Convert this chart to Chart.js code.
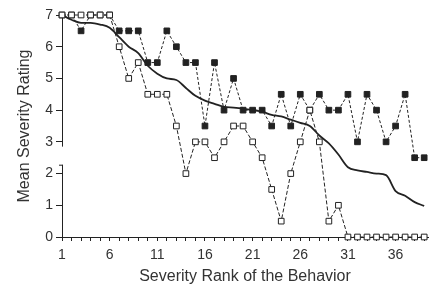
<!DOCTYPE html>
<html>
<head>
<meta charset="utf-8">
<script src="https://cdn.jsdelivr.net/npm/chart.js@4.4.1/dist/chart.umd.min.js"></script>
<style>
  html, body { margin: 0; padding: 0; background: #fff; }
  #wrap { width: 433px; height: 288px; position: relative; }
</style>
</head>
<body>
<div id="wrap"><canvas id="severityChart"></canvas></div>
<script>
// severity rank of each behavior (x)
const ranks = [];
for (let i = 1; i <= 39; i++) ranks.push(i);

// filled squares
const filledValues = [7, 7, 6.5, 7, 7, 7, 6.5, 6.5, 6.5, 5.5, 5.5, 6.5, 6, 5.5, 5.5, 3.5, 5.5, 4, 5, 4,
  4, 4, 3.5, 4.5, 3.5, 4.5, 4, 4.5, 4, 4, 4.5, 3, 4.5, 4, 3, 3.5, 4.5, 2.5, 2.5];

// open squares
const openValues = [7, 7, 7, 7, 7, 7, 6, 5, 5.5, 4.5, 4.5, 4.5, 3.5, 2, 3, 3, 2.5, 3, 3.5, 3.5,
  3, 2.5, 1.5, 0.5, 2, 3, 4, 3, 0.5, 1, 0, 0, 0, 0, 0, 0, 0, 0, 0];

// smooth mean line
const meanValues = [7, 6.85, 6.75, 6.75, 6.7, 6.6, 6.3, 6.0, 5.8, 5.4, 5.15, 5.0, 4.95, 4.7, 4.45, 4.3, 4.2, 4.1, 4.08, 4.05,
  4.0, 3.95, 3.85, 3.8, 3.7, 3.6, 3.5, 3.2, 2.95, 2.6, 2.2, 2.1, 2.05, 2.0, 1.95, 1.45, 1.3, 1.1, 0.98];

const xLabelTicks = [1, 6, 11, 16, 21, 26, 31, 36];

function toPoints(values) {
  return values.map((v, i) => ({ x: ranks[i], y: v }));
}

const ink = "#222";
const font = "'Liberation Sans', Arial, sans-serif";

// white gap on the y axis between 2 and 3 (axis break)
const axisBreak = {
  id: "axisBreak",
  afterDraw(chart) {
    const ctx = chart.ctx;
    const y = chart.scales.y;
    const x0 = chart.chartArea.left;
    const yTop = y.getPixelForValue(2.85);
    const yBot = y.getPixelForValue(2.28);
    ctx.save();
    ctx.fillStyle = "#fff";
    ctx.fillRect(x0 - 2, yTop, 4, yBot - yTop);
    ctx.strokeStyle = ink;
    ctx.lineWidth = 1;
    ctx.beginPath();
    ctx.moveTo(x0 - 3, yBot + 0.5);
    ctx.lineTo(x0 + 0.5, yBot + 0.5);
    ctx.stroke();
    ctx.restore();
  }
};

new Chart(document.getElementById("severityChart"), {
  type: "line",
  data: {
    datasets: [
      {
        label: "open",
        data: toPoints(openValues),
        borderColor: ink,
        borderWidth: 1,
        borderDash: [4, 2],
        pointStyle: "rect",
        pointRadius: 4,
        pointBackgroundColor: "#fff",
        pointBorderColor: ink,
        pointBorderWidth: 1,
        clip: false,
        order: 0
      },
      {
        label: "filled",
        data: toPoints(filledValues),
        borderColor: ink,
        borderWidth: 1,
        borderDash: [3, 2],
        pointStyle: "rect",
        pointRadius: 4,
        pointBackgroundColor: ink,
        pointBorderColor: ink,
        pointBorderWidth: 1,
        clip: false,
        order: 1
      },
      {
        label: "mean",
        data: toPoints(meanValues),
        borderColor: ink,
        borderWidth: 1.8,
        pointRadius: 0,
        cubicInterpolationMode: "monotone",
        clip: false,
        order: 2
      }
    ]
  },
  options: {
    responsive: true,
    maintainAspectRatio: false,
    animation: false,
    layout: { padding: { top: 15, right: 0, left: 0, bottom: 0 } },
    plugins: {
      legend: { display: false },
      tooltip: { enabled: false }
    },
    scales: {
      x: {
        type: "linear",
        min: 1,
        max: 39.4,
        afterBuildTicks: (scale) => {
          scale.ticks = ranks.map(v => ({ value: v }));
        },
        afterFit: (scale) => { scale.height = 51; },
        ticks: {
          autoSkip: false,
          maxRotation: 0,
          padding: 6,
          color: "#333",
          font: { family: font, size: 14 },
          callback: (v) => xLabelTicks.includes(v) ? String(v) : ""
        },
        grid: { drawOnChartArea: false, drawTicks: true, tickLength: 4, color: ink },
        border: { display: true, color: ink, width: 1 },
        title: {
          display: true,
          text: "Severity Rank of the Behavior",
          color: "#333",
          font: { family: font, size: 16 },
          padding: { top: 0, bottom: 2 }
        }
      },
      y: {
        min: 0,
        max: 7,
        afterFit: (scale) => { scale.width = 62; },
        ticks: {
          stepSize: 1,
          padding: 3,
          color: "#333",
          font: { family: font, size: 14 }
        },
        grid: { drawOnChartArea: false, drawTicks: true, tickLength: 6, color: ink },
        border: { display: true, color: ink, width: 1 },
        title: {
          display: true,
          text: "Mean Severity Rating",
          color: "#333",
          font: { family: font, size: 16 },
          padding: { top: 15, bottom: 0 }
        }
      }
    }
  },
  plugins: [axisBreak]
});
</script>
</body>
</html>
